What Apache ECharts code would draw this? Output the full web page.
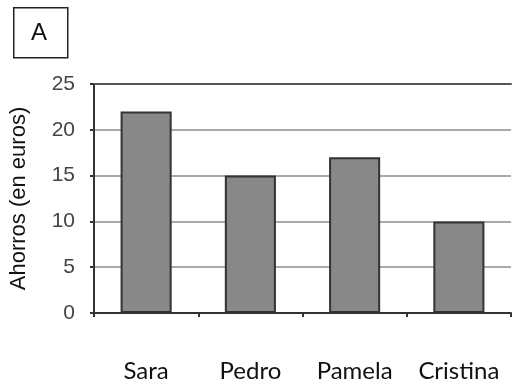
<!DOCTYPE html>
<html><head><meta charset="utf-8">
<script src="https://cdn.jsdelivr.net/npm/echarts@6/dist/echarts.min.js"></script>
<style>html,body{margin:0;padding:0;background:#fff}#c{width:512px;height:387px}</style>
</head><body><div id="c"></div>
<script>
const categories = ["Sara", "Pedro", "Pamela", "Cristina"];
const savings = [22, 15, 17, 10];
const yTicks = [0, 5, 10, 15, 20, 25];
const yTitle = "Ahorros (en euros)";
const panelLabel = "A";

const chart = echarts.init(document.getElementById('c'), null, {renderer: 'canvas'});
chart.setOption({
  animation: false,
  backgroundColor: '#fff',
  grid: {left: 92, right: 1, top: 84, bottom: 74},
  xAxis: [{
    type: 'category', data: categories,
    axisLine: {lineStyle: {color: '#333', width: 2}},
    axisTick: {show: true, length: 4, lineStyle: {color: '#333', width: 2}},
    axisLabel: {interval: 0, hideOverlap: false, margin: 46, fontSize: 24, color: '#111', fontFamily: 'Lato'}
  }, {
    type: 'category', data: categories, position: 'top',
    axisLine: {show: true, lineStyle: {color: '#555', width: 2}},
    axisTick: {show: false}, axisLabel: {show: false}
  }],
  yAxis: {
    type: 'value', min: yTicks[0], max: yTicks[yTicks.length - 1], interval: 5,
    name: yTitle, nameLocation: 'middle', nameGap: 64, nameRotate: 90,
    nameTextStyle: {fontSize: 22, color: '#111', fontFamily: 'Liberation Sans'},
    axisLine: {show: true, lineStyle: {color: '#333', width: 2}},
    axisTick: {show: true, length: 4, lineStyle: {color: '#333', width: 2}},
    axisLabel: {margin: 19, fontSize: 21, color: '#444', fontFamily: 'Liberation Sans'},
    splitLine: {lineStyle: {color: '#aaa', width: 2}}
  },
  series: [{
    type: 'bar', data: savings, barWidth: '49%',
    itemStyle: {color: '#888', borderColor: '#333', borderWidth: 2}
  }],
  graphic: [{
    type: 'rect', left: 13, top: 7, shape: {width: 54, height: 50},
    style: {fill: '#fff', stroke: '#222', lineWidth: 1.5}
  }, {
    type: 'text', left: 31, top: 21,
    style: {text: panelLabel, fontSize: 24, fill: '#111', fontFamily: 'Liberation Sans'}
  }]
});
</script></body></html>
